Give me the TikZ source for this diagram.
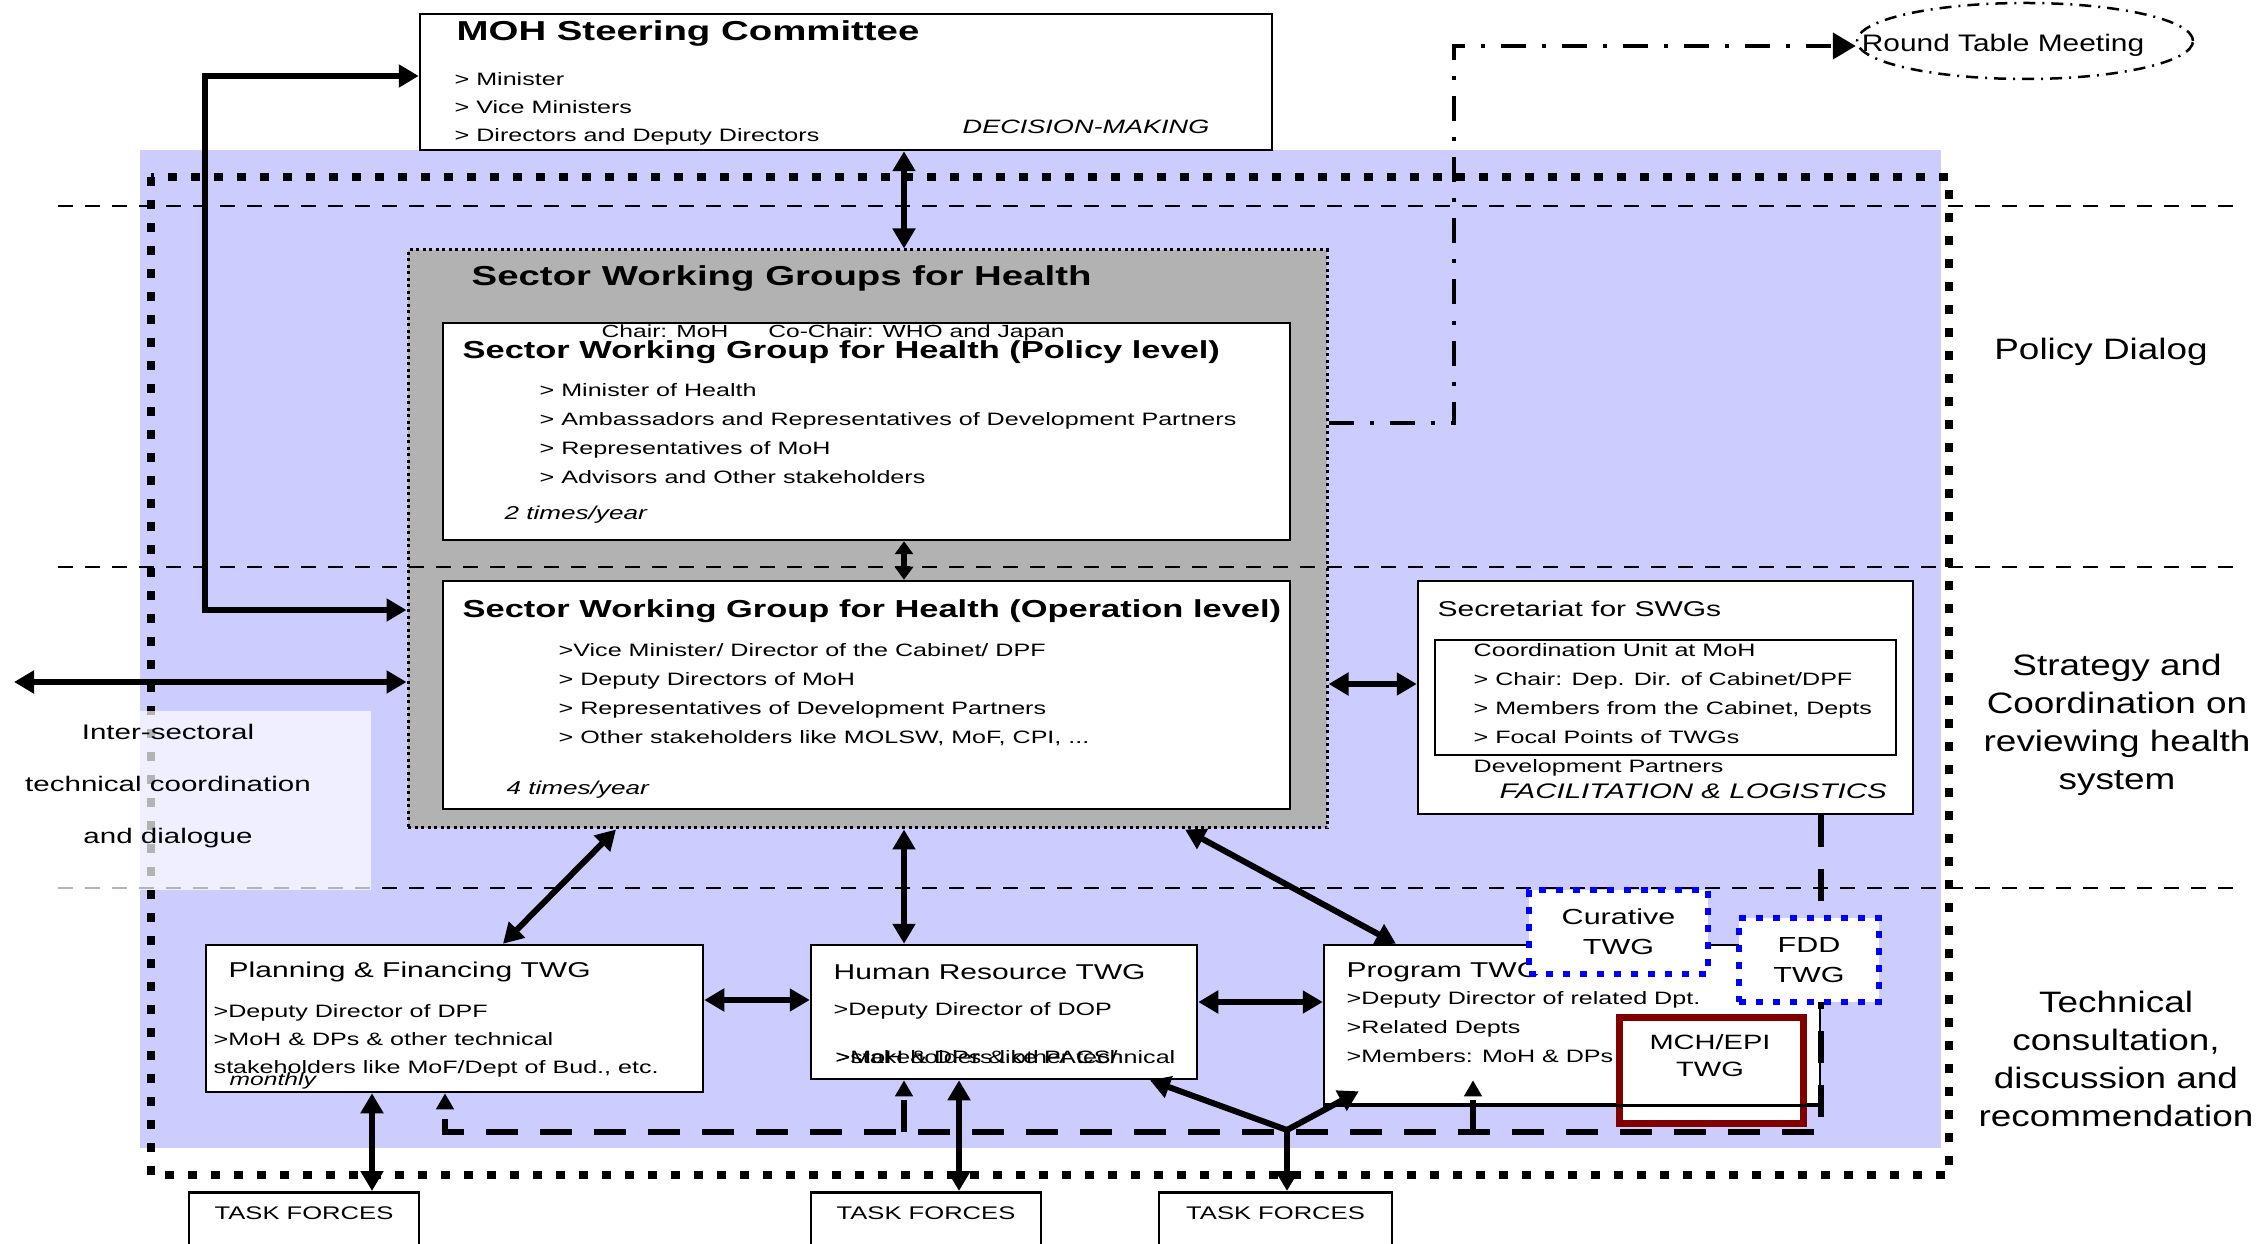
\documentclass[tikz,border=0pt]{standalone}
\usepackage{fontspec}
\setmainfont{Liberation Sans}[FakeStretch=1.4]
\newfontfamily\widefont{Liberation Sans}[FakeStretch=1.25]
\usetikzlibrary{arrows.meta, shapes.geometric}
\definecolor{bandblue}{RGB}{204,204,255}
\definecolor{swggray}{RGB}{178,178,178}
\definecolor{mchred}{RGB}{128,0,0}

\begin{document}
\begin{tikzpicture}[x=0.1mm, y=-0.1mm,
  >={Triangle[length=2mm, width=2.2mm]},
  box/.style={draw, fill=white, line width=0.25mm, inner sep=0},
  arr/.style={line width=0.6mm, <->},
  arrone/.style={line width=0.6mm, ->},
  dsh/.style={line width=0.6mm, dash pattern=on 3.2mm off 2.2mm, -{Triangle[length=1.6mm, width=1.7mm]}},
  dshdot/.style={line width=0.45mm, dash pattern=on 2.5mm off 1.6mm on 0.4mm off 1.6mm, -{Triangle[length=2.3mm, width=2.6mm]}},
  band/.style={line width=0.25mm, dash pattern=on 1.5mm off 1.2mm},
  twgbox/.style={draw=blue, fill=white, line width=0.6mm, dash pattern=on 0.7mm off 1mm, inner sep=0, align=center, font=\fontsize{6.2}{8.6}\selectfont},
  big/.style={inner sep=0, anchor=west, font=\bfseries\fontsize{7.8}{9}\selectfont},
  mid/.style={inner sep=0, anchor=west, font=\bfseries\fontsize{7}{8}\selectfont},
  head/.style={inner sep=0, anchor=west, font=\fontsize{6.1}{7}\selectfont},
  item/.style={inner sep=0, anchor=north west, align=left, font=\fontsize{5.1}{8.25}\selectfont},
  freq/.style={inner sep=0, anchor=west, font=\itshape\fontsize{5.3}{6}\selectfont},
  side/.style={inner sep=0, align=center, font=\widefont\fontsize{8.4}{10.8}\selectfont}]

  \useasboundingbox (0,0) rectangle (2262,1244);
  \fill[bandblue] (140,150) rectangle (1941,1148);
  \draw[line width=0.8mm, dash pattern=on 0.9mm off 1.4mm] (151,177) rectangle (1949,1175);

  % steering committee and round table
  \node[box, minimum width=85.2mm, minimum height=13.6mm] (moh) at (846,82) {};
  \node[big] (mohttl) at (456,33) {MOH Steering Committee};
  \node[item, font=\fontsize{5.1}{8}\selectfont] (mohlst) at (454,72) {> Minister\\> Vice Ministers\\> Directors and Deputy Directors};
  \node[freq, font=\itshape\fontsize{5.5}{6}\selectfont] (mohrole) at (962,127) {DECISION-MAKING};
  \node[ellipse, draw, line width=0.25mm, dash pattern=on 1.2mm off 0.7mm on 0.2mm off 0.7mm,
        minimum width=33.6mm, minimum height=7.6mm, inner sep=0] (rtm) at (2025,41) {};
  \node[inner sep=0, font=\widefont\fontsize{6.8}{8}\selectfont] (rtmtxt) at (2003,45) {Round Table Meeting};

  % sector working groups
  \node[draw, fill=swggray, line width=0.3mm, dash pattern=on 0.3mm off 0.35mm,
        minimum width=91.9mm, minimum height=57.8mm, inner sep=0] (swg) at (867.5,539) {};
  \node[big] (swgttl) at (471,278) {Sector Working Groups for Health};

  \draw[band] (58,206) -- (2238,206) (58,567) -- (2238,567) (58,888) -- (2238,888);

  \node[fill=white, fill opacity=0.7, minimum width=37.1mm, minimum height=17.9mm, inner sep=0] (inter) at (185.5,800.5) {};
  \node[inner sep=0, align=center, font=\fontsize{6}{14.8}\selectfont] (intertxt) at (168,786) {Inter-sectoral\\technical coordination\\and dialogue};

  \node[box, minimum width=84.7mm, minimum height=21.7mm] (pol) at (866.5,431.5) {};
  \node[mid] (polttl) at (462,352) {Sector Working Group for Health (Policy level)};
  \node[inner sep=0, anchor=west, font=\fontsize{5}{6}\selectfont] (chair) at (601,333) {Chair: MoH\hspace{4mm}Co-Chair: WHO and Japan};
  \node[item] (pollst) at (539,383) {> Minister of Health\\> Ambassadors and Representatives of Development Partners\\> Representatives of MoH\\> Advisors and Other stakeholders};
  \node[freq] (polfreq) at (504,515) {2 times/year};

  \node[box, minimum width=84.7mm, minimum height=22.8mm] (ops) at (866.5,695) {};
  \node[mid] (opsttl) at (462,611) {Sector Working Group for Health (Operation level)};
  \node[item] (opslst) at (558,643) {>Vice Minister/ Director of the Cabinet/ DPF\\> Deputy Directors of MoH\\> Representatives of Development Partners\\> Other stakeholders like MOLSW, MoF, CPI, ...};
  \node[freq] (opsfreq) at (506,790) {4 times/year};

  % secretariat
  \node[box, minimum width=49.5mm, minimum height=23.3mm] (sec) at (1665.5,697.5) {};
  \node[box, minimum width=46.1mm, minimum height=11.5mm] (cu) at (1665.5,697.5) {};
  \node[head] (secttl) at (1437,609) {Secretariat for SWGs};
  \node[item] (seclst) at (1473,643) {Coordination Unit at MoH\\> Chair: Dep. Dir. of Cabinet/DPF\\> Members from the Cabinet, Depts\\> Focal Points of TWGs\\Development Partners};
  \node[freq, font=\itshape\fontsize{6}{7}\selectfont] (secrole) at (1499,791) {FACILITATION \& LOGISTICS};

  % technical working groups
  \node[box, minimum width=49.7mm, minimum height=14.7mm] (pf) at (454.5,1018.5) {};
  \node[head] (pfttl) at (228,972) {Planning \& Financing TWG};
  \node[item, font=\fontsize{5.1}{8}\selectfont] (pflst) at (213,1004) {>Deputy Director of DPF\\>MoH \& DPs \& other technical\\ stakeholders like MoF/Dept of Bud., etc.};
  \node[freq, font=\itshape\fontsize{5}{6}\selectfont] (pffreq) at (229,1081) {monthly};

  \node[box, minimum width=38.6mm, minimum height=13.4mm] (hr) at (1004,1012) {};
  \node[head] (hrttl) at (833,972) {Human Resource TWG};
  \node[item, anchor=west] (hrdd) at (833,1011) {>Deputy Director of DOP};
  \node[item, anchor=west] (hrtech) at (835,1057) {>MoH \& DPs \& other technical};
  \node[item, anchor=west] (hrstk) at (835,1057) {>stakeholders like PACS/};

  \node[box, minimum width=49.6mm, minimum height=15.9mm] (prog) at (1572,1024.5) {};
  \node[head] (progttl) at (1346,972) {Program TWG};
  \node[item] (proglst) at (1346,991) {>Deputy Director of related Dpt.\\>Related Depts\\>Members: MoH \& DPs};

  \node[box, anchor=north, minimum width=23mm, text height=2.75mm, text depth=6mm, font=\fontsize{5.2}{6}\selectfont] (tf1) at (304,1191) {TASK FORCES};
  \node[box, anchor=north, minimum width=23mm, text height=2.75mm, text depth=6mm, font=\fontsize{5.2}{6}\selectfont] (tf2) at (926,1191) {TASK FORCES};
  \node[box, anchor=north, minimum width=23.3mm, text height=2.75mm, text depth=6mm, font=\fontsize{5.2}{6}\selectfont] (tf3) at (1275.5,1191) {TASK FORCES};

  % facilitation links
  \coordinate (busL) at (445,1132);
  \coordinate (busR) at (1821,1132);
  \draw[dsh] (busR |- sec.south) -- (busR) -- (busL) -- (busL |- pf.south);
  \draw[dsh] (904,0 |- busL) -- (904,0 |- hr.south);
  \draw[dsh] (1473,0 |- busL) -- (1473,0 |- hr.south);

  \node[twgbox, minimum width=17.9mm, minimum height=8.4mm] (cur) at (1618.5,932) {Curative\\TWG};
  \node[twgbox, minimum width=14mm, minimum height=8.4mm] (fdd) at (1809,960) {FDD\\TWG};
  \node[draw=mchred, fill=white, line width=0.7mm, minimum width=18.4mm, minimum height=10.6mm, inner sep=0] (mch) at (1711,1070) {};
  \node[inner sep=0, align=center, font=\fontsize{5.9}{7.7}\selectfont] (mchtxt) at (1710,1056) {MCH/EPI\\TWG};
  \draw[line width=0.25mm] (prog.south west) -- (prog.south east);

  % main links
  \draw[arr] (904,0 |- moh.south) -- (904,0 |- swg.north);
  \draw[arr, >={Triangle[length=1.3mm, width=1.8mm]}] (904,0 |- pol.south) -- (904,0 |- ops.north);
  \draw[arr] (swg.west |- 0,610) -- ++(-202,0) |- (moh.west |- 0,76);
  \coordinate (outside) at (14,682);
  \draw[arr] (outside) -- (swg.west |- outside);
  \draw[arr] (swg.east |- 0,684) -- (sec.west |- 0,684);
  \draw[arr] (616,0 |- swg.south) -- (503,0 |- pf.north);
  \draw[arr] (904,0 |- swg.south) -- (904,0 |- hr.north);
  \draw[arr] (1185,0 |- swg.south) -- (1396,0 |- prog.north);
  \draw[arr] (pf.east |- 0,1000) -- (hr.west |- 0,1000);
  \draw[arr] (hr.east |- 0,1002) -- (prog.west |- 0,1002);
  \draw[arr] (372,0 |- pf.south) -- (372,0 |- tf1.north);
  \draw[arr] (959,0 |- hr.south) -- (959,0 |- tf2.north);
  \coordinate (fork) at (1287,1130);
  \draw[arrone] (fork) -- (1150,0 |- hr.south);
  \draw[arrone] (fork) -- ([shift={(36,-14)}]prog.south west);
  \draw[arrone] (fork) -- (fork |- tf3.north);

  \coordinate (rtmturn) at (1454,46);
  \draw[dshdot] (swg.east |- 0,423) -| (rtmturn) -- (rtm.west |- rtmturn);

  % levels
  \node[side] (lvlpol) at (2101,352) {Policy Dialog};
  \node[side] (lvlstr) at (2117,725) {Strategy and\\Coordination on\\reviewing health\\system};
  \node[side] (lvltec) at (2116,1059) {Technical\\consultation,\\discussion and\\recommendation};
\end{tikzpicture}
\end{document}
